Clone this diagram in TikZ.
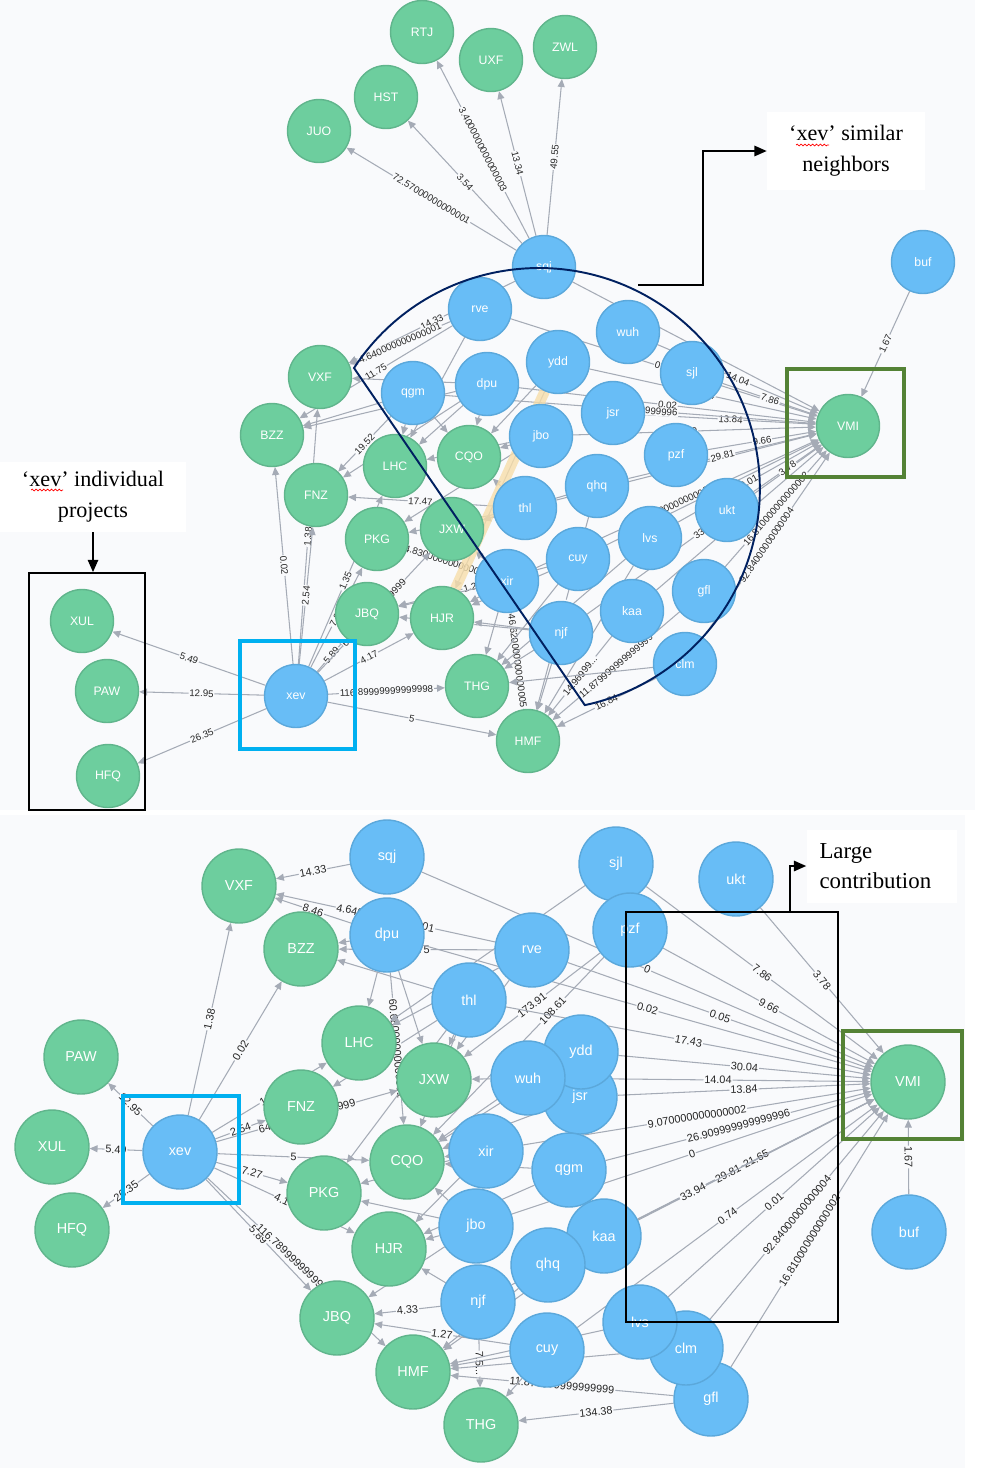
\documentclass[tikz,border=0pt]{standalone}
\usepackage{fontspec}
\setmainfont{Liberation Serif}
\newfontfamily\graphfont{Liberation Sans}
\usetikzlibrary{arrows.meta,decorations.pathmorphing}

\definecolor{projfill}{RGB}{109,206,158}
\definecolor{projline}{RGB}{96,181,140}
\definecolor{devfill}{RGB}{104,189,246}
\definecolor{devline}{RGB}{91,168,219}
\definecolor{linkgray}{RGB}{165,171,182}
\definecolor{panelbg}{RGB}{249,250,252}
\definecolor{navyline}{RGB}{0,32,96}
\definecolor{cyanbox}{RGB}{0,176,240}
\definecolor{greenbox}{RGB}{84,130,53}
\definecolor{selband}{RGB}{247,222,170}

\pgfdeclarelayer{panels}
\pgfdeclarelayer{links}
\pgfsetlayers{panels,links,main}

\tikzset{
  proj/.style={circle, draw=projline, line width=0.8pt, fill=projfill, text=white, inner sep=0pt, minimum size=1.26cm, font=\graphfont\fontsize{7}{7}\selectfont},
  dev/.style={proj, draw=devline, fill=devfill},
  bigproj/.style={proj, minimum size=1.48cm, font=\graphfont\fontsize{8.2}{8.2}\selectfont},
  bigdev/.style={bigproj, draw=devline, fill=devfill},
  link/.style={draw=linkgray, line width=0.6pt, -{Triangle[length=4.5pt,width=4pt]}},
  wt/.style={sloped, fill=panelbg, inner sep=0.5pt, text=black!85, font=\graphfont\fontsize{5.5}{5.5}\selectfont},
  bigwt/.style={wt, font=\graphfont\fontsize{6.2}{6.2}\selectfont},
  groupbox/.style={draw=black, line width=1.1pt, inner sep=0pt},
  note/.style={fill=white, inner sep=0pt, align=center, font=\fontsize{12.6}{17.5}\selectfont},
  callout/.style={draw=black, line width=0.8pt, -{Triangle[length=7pt,width=6pt]}},
  squiggle/.style={red, line width=0.4pt, decorate, decoration={snake, amplitude=0.5pt, segment length=2.2pt}}
}

\begin{document}
\begin{tikzpicture}[x=0.02cm, y=-0.02cm]
\useasboundingbox (0,0) rectangle (981,1468);

\begin{pgfonlayer}{panels}
  \fill[panelbg] (0,0) rectangle (975,810);
  \fill[panelbg] (0,815) rectangle (965,1468);
\end{pgfonlayer}

% top view: xev and its similar neighbours
\node[proj] (tRTJ) at (422,32) {RTJ};
\node[proj] (tUXF) at (491,60) {UXF};
\node[proj] (tZWL) at (565,47) {ZWL};
\node[proj] (tHST) at (386,97) {HST};
\node[proj] (tJUO) at (319,131) {JUO};
\node[dev] (tsqj) at (544,267) {sqj};
\node[dev] (tbuf) at (923,262) {buf};
\node[dev] (trve) at (480,309) {rve};
\node[dev] (twuh) at (628,332) {wuh};
\node[dev] (tydd) at (558,362) {ydd};
\node[dev] (tsjl) at (692,373) {sjl};
\node[proj] (tVXF) at (320,377) {VXF};
\node[dev] (tqgm) at (413,393) {qgm};
\node[dev] (tdpu) at (487,384) {dpu};
\node[proj] (tVMI) at (848,426) {VMI};
\node[proj] (tBZZ) at (272,435) {BZZ};
\node[dev] (tjsr) at (613,413) {jsr};
\node[dev] (tjbo) at (541,436) {jbo};
\node[proj] (tLHC) at (395,466) {LHC};
\node[proj] (tCQO) at (469,457) {CQO};
\node[dev] (tpzf) at (676,455) {pzf};
\node[proj] (tFNZ) at (316,495) {FNZ};
\node[dev] (tqhq) at (597,486) {qhq};
\node[dev] (tthl) at (525,508) {thl};
\node[dev] (tukt) at (727,510) {ukt};
\node[proj] (tPKG) at (377,539) {PKG};
\node[proj] (tJXW) at (452,529) {JXW};
\node[dev] (tlvs) at (650,538) {lvs};
\node[dev] (tcuy) at (578,559) {cuy};
\node[dev] (txir) at (507,581) {xir};
\node[dev] (tgfl) at (704,591) {gfl};
\node[proj] (tJBQ) at (367,614) {JBQ};
\node[proj] (tHJR) at (442,618) {HJR};
\node[dev] (tkaa) at (632,611) {kaa};
\node[dev] (tnjf) at (561,633) {njf};
\node[dev] (tclm) at (685,664) {clm};
\node[proj] (tXUL) at (82,621) {XUL};
\node[proj] (tPAW) at (107,691) {PAW};
\node[proj] (tHFQ) at (108,776) {HFQ};
\node[dev] (txev) at (296,696) {xev};
\node[proj] (tTHG) at (477,686) {THG};
\node[proj] (tHMF) at (528,741) {HMF};

% bottom view: contributions to VMI
\node[bigdev] (bsqj) at (387,857) {sqj};
\node[bigdev] (bsjl) at (616,864) {sjl};
\node[bigdev] (bukt) at (736,879) {ukt};
\node[bigproj] (bVXF) at (239,886) {VXF};
\node[bigdev] (bdpu) at (387,935) {dpu};
\node[bigdev] (bpzf) at (630,930) {pzf};
\node[bigdev] (brve) at (532,950) {rve};
\node[bigproj] (bBZZ) at (301,949) {BZZ};
\node[bigdev] (bthl) at (469,1000) {thl};
\node[bigdev] (bjsr) at (580,1097) {jsr};
\node[bigdev] (bydd) at (581,1052) {ydd};
\node[bigproj] (bLHC) at (359,1043) {LHC};
\node[bigproj] (bPAW) at (81,1057) {PAW};
\node[bigproj] (bJXW) at (434,1080) {JXW};
\node[bigdev] (bwuh) at (528,1078) {wuh};
\node[bigproj] (bVMI) at (908,1082) {VMI};
\node[bigproj] (bFNZ) at (301,1107) {FNZ};
\node[bigproj] (bXUL) at (52,1147) {XUL};
\node[bigdev] (bxev) at (180,1152) {xev};
\node[bigdev] (bxir) at (486,1151) {xir};
\node[bigproj] (bCQO) at (407,1162) {CQO};
\node[bigdev] (bqgm) at (569,1170) {qgm};
\node[bigproj] (bPKG) at (324,1193) {PKG};
\node[bigdev] (bjbo) at (476,1226) {jbo};
\node[bigproj] (bHFQ) at (72,1230) {HFQ};
\node[bigdev] (bkaa) at (604,1236) {kaa};
\node[bigdev] (bbuf) at (909,1232) {buf};
\node[bigproj] (bHJR) at (389,1249) {HJR};
\node[bigdev] (bqhq) at (548,1265) {qhq};
\node[bigdev] (bnjf) at (478,1302) {njf};
\node[bigproj] (bJBQ) at (337,1318) {JBQ};
\node[bigdev] (bgfl) at (711,1399) {gfl};
\node[bigdev] (bclm) at (686,1348) {clm};
\node[bigdev] (blvs) at (640,1322) {lvs};
\node[bigdev] (bcuy) at (547,1350) {cuy};
\node[bigproj] (bHMF) at (413,1372) {HMF};
\node[bigproj] (bTHG) at (481,1425) {THG};

\begin{pgfonlayer}{links}
  % top: sqj projects
  \draw[link] (tsqj) -- node[wt]{72.57000000000001} (tJUO);
  \draw[link] (tsqj) -- node[wt]{3.54} (tHST);
  \draw[link] (tsqj) -- node[wt]{3.4000000000000003} (tRTJ);
  \draw[link] (tsqj) -- node[wt]{13.34} (tUXF);
  \draw[link] (tsqj) -- node[wt]{49.55} (tZWL);
  \draw[link] (tsqj) -- node[wt]{14.33} (tVXF);
  \draw[link] (trve) -- node[wt]{4.640000000000001} (tVXF);
  \draw[link] (trve) -- node[wt]{11.75} (tBZZ);
  \draw[link] (tdpu) -- node[wt]{8.46} (tVXF);
  \draw[link] (tqgm) -- node[wt]{19.52} (tFNZ);
  \draw[link] (tthl) -- node[wt]{17.47} (tFNZ);
  \draw[link] (txir) -- node[wt]{44.83000000000004} (tPKG);
  \draw[link] (txir) -- node[wt]{46.620000000000005} (tHMF);
  \draw[link] (tqhq) -- node[wt]{20.4...} (tHMF);
  \draw[link] (tkaa) -- node[wt]{14.96999...} (tHMF);
  \draw[link] (tgfl) -- node[wt]{11.879999999999999} (tHMF);
  \draw[link] (tclm) -- node[wt]{16.84} (tHMF);
  \draw[link] (tnjf) -- node[wt]{4.33} (tJBQ);
  \draw[link] (tcuy) -- node[wt]{1.27} (tJBQ);
  \draw[link] (tdpu) -- (tLHC);
  \draw[link] (tdpu) -- (tCQO);
  \draw[link] (tdpu) -- (tFNZ);
  \draw[link] (tdpu) -- (tBZZ);
  \draw[link] (tqgm) -- (tLHC);
  \draw[link] (tqgm) -- (tCQO);
  \draw[link] (tqgm) -- (tBZZ);
  \draw[link] (tjbo) -- (tCQO);
  \draw[link] (tjbo) -- (tLHC);
  \draw[link] (tjbo) -- (tPKG);
  \draw[link] (tthl) -- (tJXW);
  \draw[link] (tthl) -- (tCQO);
  \draw[link] (tthl) -- (tPKG);
  \draw[link] (txir) -- (tJXW);
  \draw[link] (txir) -- (tHJR);
  \draw[link] (txir) -- (tJBQ);
  \draw[link] (txir) -- (tTHG);
  \draw[link] (tcuy) -- (tHJR);
  \draw[link] (tcuy) -- (tTHG);
  \draw[link] (tnjf) -- (tHJR);
  \draw[link] (tnjf) -- (tTHG);
  \draw[link] (tnjf) -- (tHMF);
  \draw[link] (tlvs) -- (tHMF);
  \draw[link] (tlvs) -- (tTHG);
  \draw[link] (tclm) -- (tTHG);
  \draw[link] (tydd) -- (tCQO);
  \draw[link] (trve) -- (tLHC);
  \draw[link] (tqhq) -- (tJXW);
  \draw[link] (tydd) -- (tHJR);
  % top: xev
  \draw[link] (txev) -- node[wt]{5.49} (tXUL);
  \draw[link] (txev) -- node[wt]{12.95} (tPAW);
  \draw[link] (txev) -- node[wt]{26.35} (tHFQ);
  \draw[link] (txev) -- node[wt]{0.02} (tBZZ);
  \draw[link] (txev) -- node[wt]{1.38} (tVXF);
  \draw[link] (txev) -- node[wt]{2.54} (tFNZ);
  \draw[link] (txev) -- node[wt]{1.35} (tLHC);
  \draw[link] (txev) -- node[wt]{7.27} (tPKG);
  \draw[link] (txev) -- node[wt]{5.89} (tJBQ);
  \draw[link] (txev) -- node[wt]{64.03999999999999} (tJXW);
  \draw[link] (txev) -- node[wt]{4.17} (tHJR);
  \draw[link] (txev) -- node[wt]{116.89999999999998} (tTHG);
  \draw[link] (txev) -- node[wt]{5} (tHMF);
  % top: VMI
  \draw[link] (tsqj) -- node[wt]{0} (tVMI);
  \draw[link] (tdpu) -- node[wt]{0.02} (tVMI);
  \draw[link] (trve) -- node[wt]{0.05} (tVMI);
  \draw[link] (tthl) -- node[wt]{17.43} (tVMI);
  \draw[link] (tydd) -- node[wt]{30.04} (tVMI);
  \draw[link] (twuh) -- node[wt]{14.04} (tVMI);
  \draw[link] (tjsr) -- node[wt]{13.84} (tVMI);
  \draw[link] (txir) -- node[wt]{9.070000000000002} (tVMI);
  \draw[link] (tqgm) -- node[wt]{26.909999999999996} (tVMI);
  \draw[link] (tjbo) -- node[wt]{0} (tVMI);
  \draw[link] (tkaa) -- node[wt]{21.65} (tVMI);
  \draw[link] (tqhq) -- node[wt]{29.81} (tVMI);
  \draw[link] (tnjf) -- node[wt]{33.94} (tVMI);
  \draw[link] (tcuy) -- node[wt]{0.74} (tVMI);
  \draw[link] (tlvs) -- node[wt]{0.01} (tVMI);
  \draw[link] (tclm) -- node[wt]{92.84000000000004} (tVMI);
  \draw[link] (tgfl) -- node[wt]{16.810000000000002} (tVMI);
  \draw[link] (tsjl) -- node[wt]{7.86} (tVMI);
  \draw[link] (tpzf) -- node[wt]{9.66} (tVMI);
  \draw[link] (tukt) -- node[wt]{3.78} (tVMI);
  \draw[link] (tbuf) -- node[wt]{1.67} (tVMI);
  % selected relationship
  \draw[selband, line width=6pt, opacity=0.8] (tydd) -- (tHJR);

  % bottom: other projects
  \draw[link] (bsqj) -- node[bigwt]{14.33} (bVXF);
  \draw[link] (brve) -- node[bigwt]{4.640000000000001} (bVXF);
  \draw[link] (bdpu) -- node[bigwt]{8.46} (bVXF);
  \draw[link] (brve) -- node[bigwt]{11.75} (bBZZ);
  \draw[link] (bthl) -- node[bigwt]{17.47} (bFNZ);
  \draw[link] (bpzf) -- node[bigwt]{173.91} (bJXW);
  \draw[link] (bpzf) -- node[bigwt, pos=0.3]{108.61} (bCQO);
  \draw[link] (bdpu) -- node[bigwt]{60.68000000000001} (bCQO);
  \draw[link] (bnjf) -- node[bigwt]{4.33} (bJBQ);
  \draw[link] (bcuy) -- node[bigwt]{1.27} (bJBQ);
  \draw[link] (bnjf) -- node[bigwt]{7.5...} (bTHG);
  \draw[link] (bgfl) -- node[bigwt]{134.38} (bTHG);
  \draw[link] (bgfl) -- node[bigwt]{11.879999999999999} (bHMF);
  \draw[link] (bdpu) -- (bBZZ);
  \draw[link] (bthl) -- (bBZZ);
  \draw[link] (bdpu) -- (bLHC);
  \draw[link] (bdpu) -- (bJXW);
  \draw[link] (brve) -- (bLHC);
  \draw[link] (brve) -- (bJXW);
  \draw[link] (bwuh) -- (bJXW);
  \draw[link] (bwuh) -- (bCQO);
  \draw[link] (bthl) -- (bJXW);
  \draw[link] (bthl) -- (bCQO);
  \draw[link] (bthl) -- (bPKG);
  \draw[link] (bxir) -- (bCQO);
  \draw[link] (bxir) -- (bPKG);
  \draw[link] (bxir) -- (bHJR);
  \draw[link] (bjbo) -- (bCQO);
  \draw[link] (bjbo) -- (bPKG);
  \draw[link] (bjbo) -- (bHJR);
  \draw[link] (bjbo) -- (bJBQ);
  \draw[link] (bqgm) -- (bCQO);
  \draw[link] (bqgm) -- (bHJR);
  \draw[link] (bnjf) -- (bHJR);
  \draw[link] (bqhq) -- (bHMF);
  \draw[link] (bkaa) -- (bHMF);
  \draw[link] (bcuy) -- (bHMF);
  \draw[link] (bcuy) -- (bTHG);
  \draw[link] (blvs) -- (bHMF);
  \draw[link] (bclm) -- (bHMF);
  \draw[link] (bsjl) -- (bLHC);
  \draw[link] (bydd) -- (bCQO);
  \draw[link] (bjsr) -- (bCQO);
  % bottom: xev
  \draw[link] (bxev) -- node[bigwt]{12.95} (bPAW);
  \draw[link] (bxev) -- node[bigwt]{5.49} (bXUL);
  \draw[link] (bxev) -- node[bigwt]{26.35} (bHFQ);
  \draw[link] (bxev) -- node[bigwt]{1.38} (bVXF);
  \draw[link] (bxev) -- node[bigwt]{0.02} (bBZZ);
  \draw[link] (bxev) -- node[bigwt]{2.54} (bFNZ);
  \draw[link] (bxev) -- node[bigwt]{1.35} (bLHC);
  \draw[link] (bxev) -- node[bigwt]{64.03999999999999} (bJXW);
  \draw[link] (bxev) -- node[bigwt]{5} (bCQO);
  \draw[link] (bxev) -- node[bigwt]{7.27} (bPKG);
  \draw[link] (bxev) -- node[bigwt]{4.17} (bHJR);
  \draw[link] (bxev) -- node[bigwt]{5.89} (bJBQ);
  \draw[link] (bxev) -- node[bigwt]{116.78999999999998} (bHMF);
  % bottom: VMI
  \draw[link] (bsqj) -- node[bigwt]{0} (bVMI);
  \draw[link] (bdpu) -- node[bigwt]{0.02} (bVMI);
  \draw[link] (brve) -- node[bigwt]{0.05} (bVMI);
  \draw[link] (bthl) -- node[bigwt]{17.43} (bVMI);
  \draw[link] (bydd) -- node[bigwt]{30.04} (bVMI);
  \draw[link] (bwuh) -- node[bigwt]{14.04} (bVMI);
  \draw[link] (bjsr) -- node[bigwt]{13.84} (bVMI);
  \draw[link] (bxir) -- node[bigwt]{9.070000000000002} (bVMI);
  \draw[link] (bqgm) -- node[bigwt]{26.909999999999996} (bVMI);
  \draw[link] (bjbo) -- node[bigwt]{0} (bVMI);
  \draw[link] (bkaa) -- node[bigwt]{21.65} (bVMI);
  \draw[link] (bqhq) -- node[bigwt]{29.81} (bVMI);
  \draw[link] (bnjf) -- node[bigwt]{33.94} (bVMI);
  \draw[link] (bcuy) -- node[bigwt]{0.74} (bVMI);
  \draw[link] (blvs) -- node[bigwt]{0.01} (bVMI);
  \draw[link] (bclm) -- node[bigwt]{92.84000000000004} (bVMI);
  \draw[link] (bgfl) -- node[bigwt]{16.810000000000002} (bVMI);
  \draw[link] (bsjl) -- node[bigwt]{7.86} (bVMI);
  \draw[link] (bpzf) -- node[bigwt]{9.66} (bVMI);
  \draw[link] (bukt) -- node[bigwt]{3.78} (bVMI);
  \draw[link] (bbuf) -- node[bigwt]{1.67} (bVMI);
\end{pgfonlayer}

% highlight boxes
\node[groupbox, minimum width=2.32cm, minimum height=4.74cm] (indivbox) at (87,691.5) {};
\draw[cyanbox, line width=2.3pt] (240,641) rectangle (355,749);
\draw[greenbox, line width=2.8pt] (787,369) rectangle (904,477);
\draw[cyanbox, line width=2.3pt] (123,1096) rectangle (239,1203);
\draw[greenbox, line width=2.8pt] (843,1031) rectangle (962,1139);
\node[groupbox, minimum width=4.24cm, minimum height=8.2cm] (bigbox) at (732,1117) {};

% similar neighbours outline
\draw[navyline, line width=1.1pt] (354,368) arc[start angle=146.8, end angle=-78, radius=4.42cm] -- cycle;
\coordinate (arcpt) at (638,285);
\coordinate (simbend) at (703,285);
\coordinate (bigfoot) at (790,912);

% notes
\node[note, minimum width=3.72cm, minimum height=1.4cm] (indivnote) at (93,497) {‘xev’ individual\\projects};
\node[note, minimum width=3.16cm, minimum height=1.56cm] (simnote) at (846,151) {‘xev’ similar\\neighbors};
\node[note, align=left, inner xsep=0.26cm, text width=2.5cm, minimum height=1.46cm, font=\fontsize{13}{17.5}\selectfont] (bignote) at (882,866) {Large\\contribution};
\draw[squiggle] (31,490) -- (63,490);
\draw[squiggle] (796,145) -- (829,145);

\draw[callout] (indivnote.south) -- (indivnote.south |- indivbox.north);
\draw[callout] (arcpt) -- (simbend) |- (simnote.west);
\draw[callout] (bigfoot) |- (bignote.west);
\end{tikzpicture}
\end{document}
